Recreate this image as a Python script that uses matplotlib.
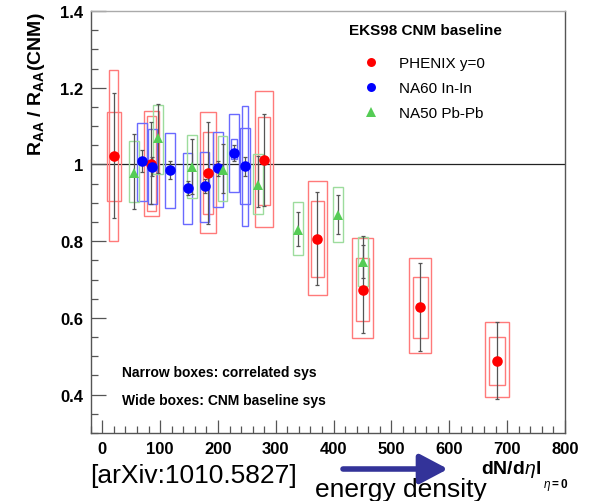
import matplotlib
matplotlib.use("Agg")
import matplotlib.pyplot as plt
from matplotlib.patches import Rectangle
from matplotlib.ticker import MultipleLocator, FuncFormatter

plt.rcParams['font.family'] = ['Liberation Sans', 'DejaVu Sans']
plt.rcParams['mathtext.fontset'] = 'custom'
plt.rcParams['mathtext.rm'] = 'Liberation Sans'
plt.rcParams['mathtext.bf'] = 'Liberation Sans:bold'
plt.rcParams['mathtext.it'] = 'Liberation Sans:italic'
plt.rcParams['mathtext.sf'] = 'Liberation Sans'

# ---------------- data ----------------
# PHENIX y=0 (Au+Au)
phenix_x = [20, 85, 183, 280, 372, 450, 550, 682]
phenix_y = [1.022, 1.001, 0.978, 1.012, 0.806, 0.673, 0.629, 0.488]
phenix_stat_lo = [0.861, 0.897, 0.845, 0.893, 0.686, 0.561, 0.514, 0.389]
phenix_stat_hi = [1.186, 1.111, 1.110, 1.132, 0.928, 0.814, 0.743, 0.589]
phenix_corr_lo = [0.801, 0.878, 0.871, 0.894, 0.706, 0.592, 0.548, 0.425]
phenix_corr_hi = [1.246, 1.126, 1.084, 1.123, 0.904, 0.756, 0.707, 0.550]
phenix_cnm_lo = [0.905, 0.865, 0.821, 0.836, 0.660, 0.548, 0.509, 0.394]
phenix_cnm_hi = [1.137, 1.140, 1.138, 1.191, 0.958, 0.808, 0.756, 0.589]

# NA60 In-In
na60_x = [69, 86.5, 117, 147.5, 177, 200, 227.5, 246.5]
na60_y = [1.008, 0.994, 0.986, 0.938, 0.944, 0.990, 1.030, 0.995]
na60_stat_lo = [0.980, 0.970, 0.962, 0.920, 0.925, 0.970, 1.010, 0.971]
na60_stat_hi = [1.037, 1.020, 1.010, 0.956, 0.962, 1.010, 1.050, 1.019]
na60_box_lo = [0.906, 0.897, 0.887, 0.845, 0.849, 0.888, 0.928, 0.897]
na60_box_hi = [1.107, 1.093, 1.081, 1.029, 1.033, 1.084, 1.132, 1.095]
na60_corr_x = [227.5, 246.5]
na60_corr_lo = [1.014, 0.840]
na60_corr_hi = [1.066, 1.152]

# NA50 Pb-Pb
na50_x = [55, 97, 155.5, 208, 269.5, 338.5, 407.5, 451]
na50_y = [0.978, 1.068, 0.994, 0.986, 0.947, 0.829, 0.868, 0.747]
na50_stat_lo = [0.884, 0.978, 0.923, 0.925, 0.890, 0.788, 0.819, 0.705]
na50_stat_hi = [1.080, 1.158, 1.066, 1.053, 1.023, 0.875, 0.920, 0.790]
na50_box_lo = [0.901, 0.975, 0.913, 0.906, 0.871, 0.764, 0.797, 0.684]
na50_box_hi = [1.062, 1.155, 1.077, 1.075, 1.027, 0.901, 0.942, 0.811]

x_ticks = [0, 100, 200, 300, 400, 500, 600, 700, 800]
y_ticks = [0.4, 0.6, 0.8, 1.0, 1.2, 1.4]

# ---------------- figure ----------------
W, H = 591, 502
fig = plt.figure(figsize=(W / 100, H / 100), dpi=100)
L, R, T, B = 90.7, 565, 12, 434
ax = fig.add_axes([L / W, 1 - B / H, (R - L) / W, (B - T) / H])
ax.set_xlim(-20, 800)
ax.set_ylim(0.3, 1.4)

RED, BLUE, GREEN = '#ff0000', '#0000ff', '#55cc55'
RED_BOX, BLUE_BOX, GREEN_BOX = '#ff7a7a', '#6a6aff', '#9ddc9d'
ERR = '#555555'


def boxes(xs, lo, hi, width_fn, color, z=2):
    for x, l, h in zip(xs, lo, hi):
        w = width_fn(x)
        ax.add_patch(Rectangle((x - w / 2, l), w, h - l, fill=False,
                               ec=color, lw=1.0, zorder=z))


def errbars(xs, ys, lo, hi):
    yerr = [[y - l for y, l in zip(ys, lo)], [h - y for y, h in zip(ys, hi)]]
    ax.errorbar(xs, ys, yerr=yerr, fmt='none', ecolor=ERR, elinewidth=0.9,
                capsize=1.5, capthick=0.9, zorder=3)


ax.axhline(1.0, color='#222222', lw=0.9, zorder=1.5)

# systematic boxes
boxes(phenix_x, phenix_cnm_lo, phenix_cnm_hi, lambda x: 23 + 0.027 * x, RED_BOX)
boxes(phenix_x, phenix_corr_lo, phenix_corr_hi, lambda x: 15 + 0.018 * x, RED_BOX)
boxes(na60_x, na60_box_lo, na60_box_hi, lambda x: 16.5, BLUE_BOX)
boxes(na60_corr_x, na60_corr_lo, na60_corr_hi, lambda x: 10, BLUE_BOX)
boxes(na50_x, na50_box_lo, na50_box_hi, lambda x: 17, GREEN_BOX)

# statistical error bars
errbars(phenix_x, phenix_y, phenix_stat_lo, phenix_stat_hi)
errbars(na60_x, na60_y, na60_stat_lo, na60_stat_hi)
errbars(na50_x, na50_y, na50_stat_lo, na50_stat_hi)

# markers
h1, = ax.plot(phenix_x, phenix_y, 'o', color=RED, ms=7.6, mew=0, zorder=4,
              label='PHENIX y=0')
h2, = ax.plot(na60_x, na60_y, 'o', color=BLUE, ms=7.6, mew=0, zorder=5,
              label='NA60 In-In')
h3, = ax.plot(na50_x, na50_y, '^', color=GREEN, ms=7.8, mew=0, zorder=6,
              label='NA50 Pb-Pb')

# axes styling
for s in ['left', 'bottom', 'right']:
    ax.spines[s].set_color('#555555')
ax.spines['top'].set_color('#aaaaaa')
for s in ax.spines.values():
    s.set_linewidth(1.0)

ax.set_xticks(x_ticks)
ax.set_yticks(y_ticks)
ax.xaxis.set_minor_locator(MultipleLocator(20))
ax.yaxis.set_minor_locator(MultipleLocator(0.05))
ax.yaxis.set_major_formatter(FuncFormatter(lambda v, p: f"{v:g}"))
ax.tick_params(which='both', direction='in', top=False, right=False,
               color='#555555', width=0.9)
ax.tick_params(axis='x', which='major', length=9.5, pad=6)
ax.tick_params(axis='x', which='minor', length=5)
ax.tick_params(axis='y', which='major', length=10.5, pad=5.5)
ax.tick_params(axis='y', which='minor', length=5.3)
for lab in ax.get_xticklabels() + ax.get_yticklabels():
    lab.set_fontweight('bold')
    lab.set_fontsize(12)

ax.set_ylabel(r'$\mathbf{R_{AA}\ /\ R_{AA}(CNM)}$', fontsize=14, loc='top',
              labelpad=9)

# legend
ax.text((349 - L) / (R - L), (B - 31) / (B - T), 'EKS98 CNM baseline',
        transform=ax.transAxes, fontsize=11, fontweight='bold',
        ha='left', va='center')
leg = ax.legend(handles=[h1, h2, h3], loc='upper left',
                bbox_to_anchor=(363.4 / W, 1 - 57 / H),
                bbox_transform=fig.transFigure, frameon=False, fontsize=11,
                numpoints=1, handlelength=1.0, handletextpad=1.33,
                borderpad=0, borderaxespad=0, labelspacing=0.72,
                markerscale=0.85)

ax.text((122 - L) / (R - L), (B - 373) / (B - T),
        'Narrow boxes: correlated sys', transform=ax.transAxes,
        fontsize=10, fontweight='bold', ha='left', va='center')
ax.text((122 - L) / (R - L), (B - 401) / (B - T),
        'Wide boxes: CNM baseline sys', transform=ax.transAxes,
        fontsize=10, fontweight='bold', ha='left', va='center')

# bottom annotations
fig.text(90 / W, 1 - 476 / H, '[arXiv:1010.5827]', fontsize=19,
         ha='left', va='center')
fig.text(315 / W, 1 - 490 / H, 'energy density', fontsize=19,
         ha='left', va='center')
ax.annotate('', xy=(448, H - 470), xytext=(343, H - 470),
            xycoords='figure pixels', textcoords='figure pixels',
            arrowprops=dict(arrowstyle='-|>,head_length=0.85,head_width=0.45',
                            mutation_scale=20, lw=4.0, color='#333399',
                            shrinkA=0, shrinkB=0))
fig.text(541 / W, 1 - 470 / H, r'$\mathbf{dN/d}\eta\mathbf{l}$',
         fontsize=14, ha='right', va='center')
fig.text(543 / W, 1 - 485 / H, r'$\eta\mathbf{=0}$',
         fontsize=8.5, ha='left', va='center')

fig.savefig('out.png', dpi=100)
